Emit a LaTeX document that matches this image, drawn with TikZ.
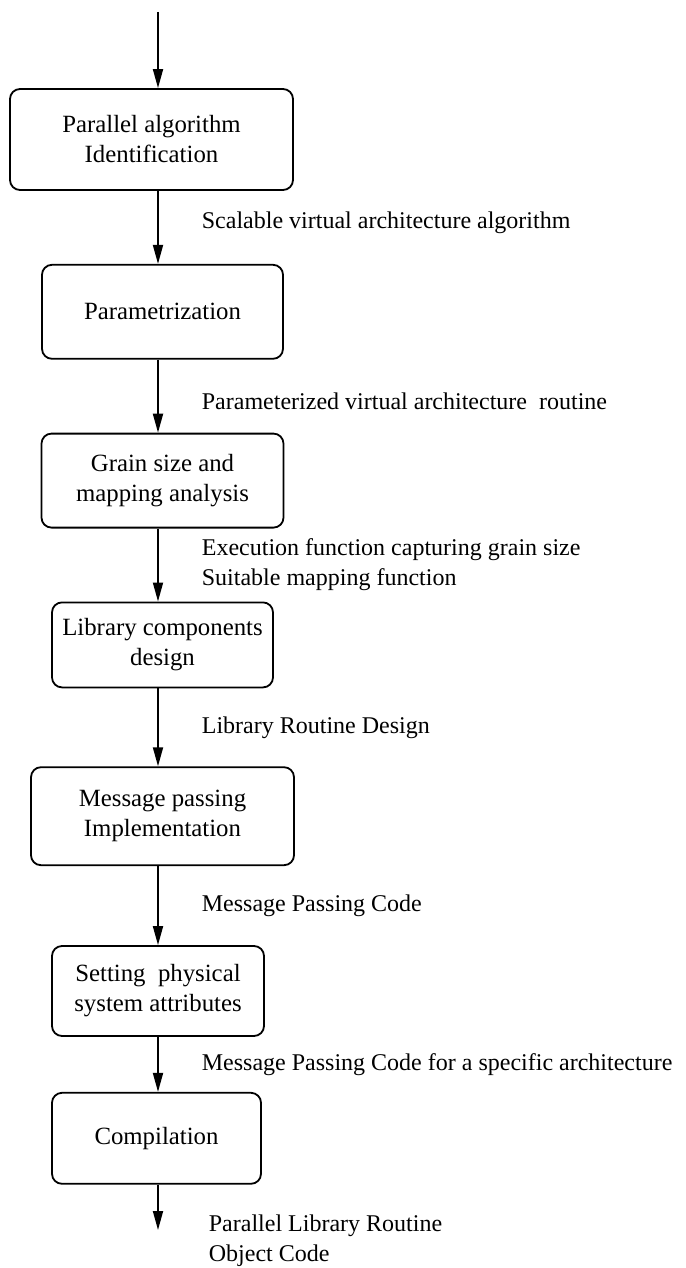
\documentclass[tikz,border=0pt]{standalone}
\usepackage{fontspec}
\setmainfont{Liberation Serif}
\usetikzlibrary{arrows.meta, positioning}

\begin{document}
\begin{tikzpicture}[
        x=0.5pt, y=-0.5pt,
        >={Triangle[length=9.5pt, width=5pt]},
        line width=0.9pt,
        stage/.style={rectangle, rounded corners=5pt, draw, align=center, inner sep=2pt, font=\fontsize{12.4}{15}\selectfont},
        flow_label/.style={midway, anchor=west, xshift=21.5pt, inner sep=0pt, align=left, font=\fontsize{12}{15}\selectfont}
    ]
        \useasboundingbox (0,0) rectangle (685,1268);
        \coordinate (top) at (158,12);

        \node[stage, minimum width=141.5pt, minimum height=50.5pt] (ident) at (151.5,139.5) {Parallel algorithm\\Identification};
        \node[stage, minimum width=120.5pt, minimum height=47pt, below=36.5pt of ident, xshift=5.5pt] (param) {Parametrization};
        \node[stage, minimum width=121pt, minimum height=47pt, below=36.5pt of param] (grain) {Grain size and\\mapping analysis};
        \node[stage, minimum width=110.5pt, minimum height=42.5pt, below=36.5pt of grain] (libdes) {Library components\\design};
        \node[stage, minimum width=131.5pt, minimum height=49pt, below=39pt of libdes] (mpimpl) {Message passing\\Implementation};
        \node[stage, minimum width=106pt, minimum height=45pt, below=39.5pt of mpimpl, xshift=-2.25pt] (phys) {Setting\ \ physical\\system attributes};
        \node[stage, minimum width=104.5pt, minimum height=45.5pt, below=27.5pt of phys, xshift=-0.75pt] (comp) {Compilation};
        \coordinate (out) at (158,1230);

        % Edges
        \draw[->] (top) -- (ident.north -| top);
        \draw[->] (ident.south -| top) -- node[flow_label, yshift=2.25pt] {Scalable virtual architecture algorithm} (param.north -| top);
        \draw[->] (param.south -| top) -- node[flow_label, yshift=-2.75pt] {Parameterized virtual architecture\ \ routine} (grain.north -| top);
        \draw[->] (grain.south -| top) -- node[flow_label] {Execution function capturing grain size\\Suitable mapping function} (libdes.north -| top);
        \draw[->] (libdes.south -| top) -- node[flow_label] {Library Routine Design} (mpimpl.north -| top);
        \draw[->] (mpimpl.south -| top) -- node[flow_label] {Message Passing Code} (phys.north -| top);
        \draw[->] (phys.south -| top) -- node[flow_label] {Message Passing Code for a specific architecture} (comp.north -| top);
        \draw[->] (comp.south -| top) -- (out);
        \node[anchor=west, inner sep=0pt, align=left, font=\fontsize{12}{15}\selectfont, right=25pt of out, yshift=-5.5pt] (result) {Parallel Library Routine\\Object Code};
    \end{tikzpicture}
\end{document}
